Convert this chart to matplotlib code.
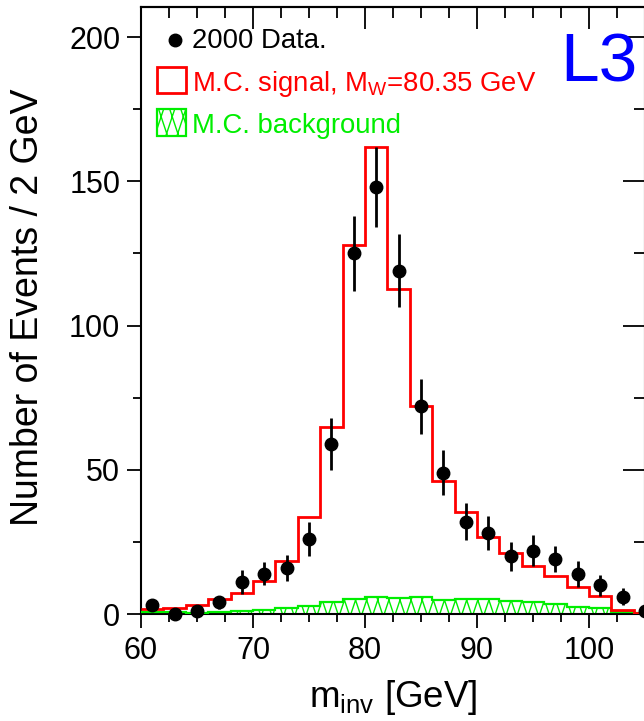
import numpy as np
import matplotlib
matplotlib.use("Agg")
import matplotlib.pyplot as plt
import matplotlib.hatch as mhatch
from matplotlib.path import Path
from matplotlib.patches import Rectangle
from matplotlib.lines import Line2D
from matplotlib.ticker import MultipleLocator

plt.rcParams['font.family'] = ['Liberation Sans', 'DejaVu Sans']
plt.rcParams['mathtext.fontset'] = 'custom'
plt.rcParams['mathtext.rm'] = 'Liberation Sans'
plt.rcParams['mathtext.it'] = 'Liberation Sans'
plt.rcParams['hatch.linewidth'] = 1.0


# steep criss-cross hatch (mapped onto the '*' hatch character)
class SteepCrossHatch(mhatch.HatchPatternBase):
    N = 9
    D = 1.0 / 3.0

    def __init__(self, hatch, density):
        self.num_lines = self.N if hatch.count('*') else 0
        self.num_vertices = self.num_lines * 2 * 3 * 2

    def set_vertices_and_codes(self, vertices, codes):
        k = 0
        for i in range(self.num_lines):
            x0 = i / self.N
            for sign in (1, -1):
                for shift in (-1, 0, 1):
                    vertices[k] = (x0 + shift, 0.0)
                    vertices[k + 1] = (x0 + shift + sign * self.D, 1.0)
                    codes[k] = Path.MOVETO
                    codes[k + 1] = Path.LINETO
                    k += 2


mhatch._hatch_types = [t for t in mhatch._hatch_types
                       if t is not mhatch.Stars] + [SteepCrossHatch]

# ---- data ----
bin_edges = [60, 62, 64, 66, 68, 70, 72, 74, 76, 78, 80, 82, 84, 86, 88, 90,
             92, 94, 96, 98, 100, 102, 104, 106]
data_x = [61, 63, 65, 67, 69, 71, 73, 75, 77, 79, 81, 83, 85, 87, 89, 91,
          93, 95, 97, 99, 101, 103, 105]
data_y = [3, 0, 1, 4, 11, 14, 16, 26, 59, 125, 148, 119, 72, 49, 32, 28,
          20, 22, 19, 14, 10, 6, 1]
data_err = [2.0, 0.0, 1.3, 2.3, 4.2, 4.1, 4.6, 5.9, 9.0, 13.0, 14.0, 12.6,
            9.5, 7.8, 6.4, 5.9, 5.0, 5.5, 4.6, 4.5, 3.6, 2.9, 1.2]
signal = [1.8, 2.0, 3.1, 5.1, 7.2, 11.3, 18.4, 33.7, 64.9, 127.8, 162.0,
          112.5, 72.1, 46.2, 35.2, 26.6, 21.0, 16.7, 13.1, 9.2, 6.2, 1.5, 0.3]
background = [0.6, 0.6, 0.4, 0.8, 1.0, 1.4, 2.2, 2.9, 4.0, 5.2, 6.0, 5.7,
              5.8, 4.9, 5.3, 5.1, 4.4, 4.2, 3.4, 2.3, 2.1, 0.7, 0.3]

legend_labels = ["2000 Data.", r"M.C. signal, M$_{\mathrm{W}}$=80.35 GeV",
                 "M.C. background"]
x_label = r"m$_{\mathrm{inv}}$ [GeV]"
y_label = "Number of Events / 2 GeV"

RED = '#ff0000'
GREEN = '#00ee00'
BLUE = '#0000ff'

W, H = 644, 721
fig = plt.figure(figsize=(W / 100, H / 100), dpi=100)
plt.rcParams['hatch.color'] = GREEN


def fx(px):
    return px / W


def fy(py):
    return 1 - py / H


ax = fig.add_axes([fx(141), fy(614), (645 - 141) / W, (614 - 7) / H])
ax.set_xlim(60, 105)
ax.set_ylim(0, 210.4)

# background (hatched)
edges = np.array(bin_edges, dtype=float)
bg = np.array(background, dtype=float)
ax.fill_between(edges, np.append(bg, bg[-1]), step='post', facecolor='none',
                edgecolor=GREEN, hatch='*', linewidth=0, zorder=2)
ax.stairs(bg, edges, color=GREEN, linewidth=1.6, baseline=None, zorder=3)

# signal
ax.stairs(signal, edges, color=RED, linewidth=2.0, baseline=None, zorder=4)

# data
ax.errorbar(data_x, data_y, yerr=data_err, fmt='o', color='black',
            markersize=9, elinewidth=2.0, capsize=0, zorder=5, clip_on=False)

# spines / ticks
for s in ['left', 'bottom', 'top', 'right']:
    ax.spines[s].set_linewidth(1.5)
ax.xaxis.set_major_locator(MultipleLocator(10))
ax.xaxis.set_minor_locator(MultipleLocator(2.5))
ax.yaxis.set_major_locator(MultipleLocator(50))
ax.yaxis.set_minor_locator(MultipleLocator(25))
ax.tick_params(which='both', direction='out', top=False, right=False,
               labelsize=22, width=1.3)
ax.tick_params(which='major', length=10)
ax.tick_params(which='minor', length=6)
ax.tick_params(axis='x', which='major', pad=6)
ax.tick_params(axis='y', which='major', pad=5)

secx = ax.secondary_xaxis('top')
secx.xaxis.set_major_locator(MultipleLocator(10))
secx.xaxis.set_minor_locator(MultipleLocator(2.5))
secx.tick_params(which='both', direction='in', labeltop=False, width=1.3)
secx.tick_params(which='major', length=16)
secx.tick_params(which='minor', length=8)
secx.spines['top'].set_linewidth(1.5)

secy = ax.secondary_yaxis('right')
secy.yaxis.set_major_locator(MultipleLocator(50))
secy.yaxis.set_minor_locator(MultipleLocator(25))
secy.tick_params(which='both', direction='in', labelright=False, width=1.3)
secy.tick_params(which='major', length=16)
secy.tick_params(which='minor', length=8)

# axis labels
fig.text(fx(28), fy(307), y_label, rotation=90, ha='center', va='center',
         fontsize=27)
fig.text(fx(393), fy(707), x_label, ha='center', va='baseline', fontsize=26.5)

# legend (manual)
fig.add_artist(Line2D([fx(175)], [fy(40)], marker='o', color='black',
                      markersize=9, linestyle='none', transform=fig.transFigure))
fig.text(fx(192), fy(48), legend_labels[0], color='black', fontsize=19.8,
         va='baseline', ha='left')
fig.add_artist(Rectangle((fx(157), fy(93)), 29 / W, 26 / H, fill=False,
                         edgecolor=RED, linewidth=2.0, transform=fig.transFigure))
fig.text(fx(192), fy(91), legend_labels[1], color=RED, fontsize=19.8,
         va='baseline', ha='left')
fig.add_artist(Rectangle((fx(157), fy(136)), 29 / W, 27 / H, fill=False,
                         edgecolor=GREEN, hatch='*', linewidth=1.6,
                         transform=fig.transFigure))
fig.text(fx(192), fy(133), legend_labels[2], color=GREEN, fontsize=19.8,
         va='baseline', ha='left')

# L3 logo
fig.text(fx(560), fy(82), "L3", color=BLUE, fontsize=50, va='baseline',
         ha='left')

fig.savefig('out.png', dpi=100)
